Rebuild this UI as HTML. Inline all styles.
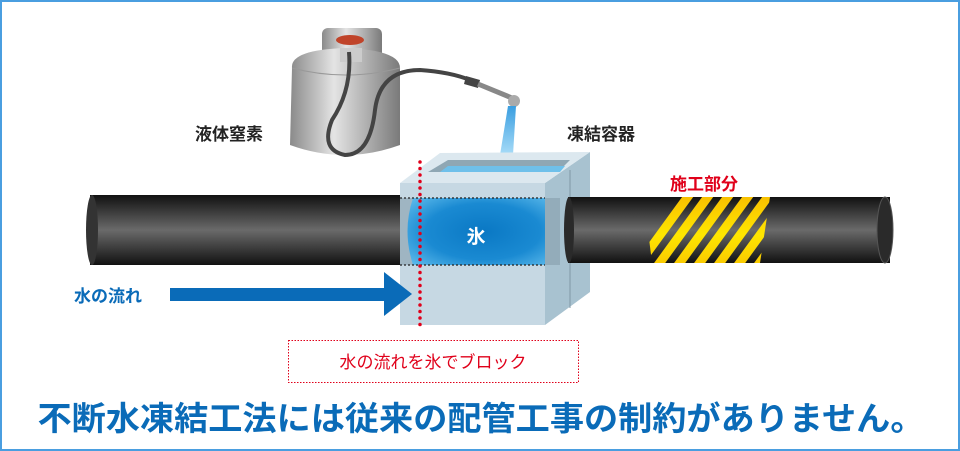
<!DOCTYPE html>
<html><head><meta charset="utf-8"><style>
html,body{margin:0;padding:0;background:#fff}
svg{display:block}
text{font-family:"Liberation Sans","Noto Sans CJK JP",sans-serif}
</style></head><body>
<svg width="960" height="451" viewBox="0 0 960 451" xmlns="http://www.w3.org/2000/svg">
<defs>
<linearGradient id="pipe" x1="0" y1="0" x2="0" y2="1">
<stop offset="0" stop-color="#111"/><stop offset="0.5" stop-color="#6a6a6a"/><stop offset="1" stop-color="#111"/>
</linearGradient>
<linearGradient id="tank" x1="0" y1="0" x2="1" y2="0">
<stop offset="0" stop-color="#8a8a8a"/><stop offset="0.4" stop-color="#e4e4e4"/><stop offset="1" stop-color="#7a7a7a"/>
</linearGradient>
<radialGradient id="ice" cx="0.55" cy="0.5" r="0.7">
<stop offset="0" stop-color="#0a78c4"/><stop offset="0.6" stop-color="#1a8ad2"/><stop offset="1" stop-color="#5ab8ea"/>
</radialGradient>
<linearGradient id="stripe" x1="0" y1="0" x2="0" y2="1">
<stop offset="0" stop-color="#f5b000"/><stop offset="0.5" stop-color="#ffe600"/><stop offset="1" stop-color="#f5b000"/>
</linearGradient>
<linearGradient id="jet" x1="0" y1="0" x2="0" y2="1">
<stop offset="0" stop-color="#3a9ee0"/><stop offset="1" stop-color="#a8dcf8"/>
</linearGradient>
<clipPath id="hatch"><polygon points="657,197 770,197 760,263 652,263 648,230"/></clipPath>
</defs>
<rect x="1" y="1" width="958" height="449" fill="#fff" stroke="#4a9ee0" stroke-width="2"/>

<!-- left pipe -->
<rect x="90" y="195" width="320" height="70" fill="url(#pipe)"/>
<ellipse cx="92" cy="230" rx="6" ry="35" fill="#333"/>

<!-- tank -->
<rect x="322" y="28" width="60" height="40" rx="6" fill="url(#tank)"/>
<path d="M292 68 Q290 50 345 48 Q400 50 400 68 L400 145 Q345 165 290 145 Z" fill="url(#tank)"/>
<path d="M292 68 Q345 82 400 68" fill="none" stroke="#999"/>
<rect x="340" y="48" width="22" height="14" fill="#ccc"/>
<ellipse cx="350" cy="40" rx="14" ry="5" fill="#c0442a"/>
<path d="M349 52 Q352 90 332 120 Q320 150 345 155 Q370 155 375 110 Q380 70 420 70 Q450 72 470 80" fill="none" stroke="#444" stroke-width="4"/>
<polygon points="466,76 480,80 478,88 464,84" fill="#444"/>
<line x1="478" y1="84" x2="512" y2="98" stroke="#888" stroke-width="5"/>
<circle cx="514" cy="101" r="6" fill="#aaa"/>
<polygon points="508,106 516,106 513,155 500,155" fill="url(#jet)"/>

<!-- container -->
<polygon points="545,183 590,152 590,292 545,325" fill="#a8c2d0"/>
<line x1="570" y1="170" x2="570" y2="308" stroke="#7f98a6" stroke-width="1"/>
<!-- right pipe -->
<rect x="568" y="197" width="322" height="66" fill="url(#pipe)"/>
<ellipse cx="569" cy="230" rx="5" ry="33" fill="#2a2a2a"/>
<ellipse cx="885" cy="230" rx="8" ry="33" fill="#2a2a2a" stroke="#555"/>
<g clip-path="url(#hatch)">
<rect x="640" y="197" width="140" height="66" fill="url(#pipe)"/>
<g stroke="url(#stripe)" stroke-width="9">
<line x1="620" y1="290" x2="700" y2="180"/><line x1="640" y1="290" x2="720" y2="180"/>
<line x1="660" y1="290" x2="740" y2="180"/><line x1="680" y1="290" x2="760" y2="180"/>
<line x1="700" y1="290" x2="780" y2="180"/><line x1="720" y1="290" x2="800" y2="180"/>
<line x1="740" y1="290" x2="820" y2="180"/><line x1="760" y1="290" x2="840" y2="180"/>
</g></g>
<polygon points="545,198 560,198 560,265 545,265" fill="#93acba"/>
<polygon points="400,183 440,153 590,152 545,183" fill="#dce8ef"/>
<polygon points="428,172 448,160 570,160 558,172" fill="#8fa7b4"/>
<polygon points="448,166 565,166 560,172 440,172" fill="#6fc0ea"/>
<rect x="400" y="183" width="145" height="142" fill="#c6d8e3"/>
<rect x="400" y="198" width="145" height="67" fill="#9fb5c2"/>
<path d="M413 198 Q402 231 413 265 L545 265 L545 198 Z" fill="url(#ice)"/>
<line x1="400" y1="198" x2="545" y2="198" stroke="#222" stroke-width="1.2" stroke-dasharray="2,2"/>
<line x1="400" y1="265" x2="545" y2="265" stroke="#222" stroke-width="1.2" stroke-dasharray="2,2"/>
<text x="476" y="243" font-size="19" font-weight="bold" fill="#fff" text-anchor="middle">氷</text>
<line x1="420" y1="162" x2="420" y2="330" stroke="#e0001a" stroke-width="3.5" stroke-linecap="round" stroke-dasharray="0,6.5"/>

<!-- arrow -->
<rect x="170" y="288" width="215" height="13" fill="#0a6bb8"/>
<polygon points="384,272 412,294 384,316" fill="#0a6bb8"/>

<!-- labels -->
<text x="195" y="140" font-size="17" font-weight="bold" fill="#222">液体窒素</text>
<text x="567" y="140" font-size="17" font-weight="bold" fill="#222">凍結容器</text>
<text x="670" y="190" font-size="17" font-weight="bold" fill="#e0001a">施工部分</text>
<text x="74" y="302" font-size="17" font-weight="bold" fill="#0a6bb8">水の流れ</text>
<rect x="288.5" y="340.5" width="290" height="42" fill="none" stroke="#e0001a" stroke-dasharray="1.5,1.5"/>
<text x="433" y="368" font-size="17" fill="#e0001a" text-anchor="middle">水の流れを氷でブロック</text>
<text x="481" y="430" font-size="33" font-weight="bold" fill="#0a6bb8" text-anchor="middle" textLength="887" lengthAdjust="spacingAndGlyphs">不断水凍結工法には従来の配管工事の制約がありません。</text>
</svg>
</body></html>
